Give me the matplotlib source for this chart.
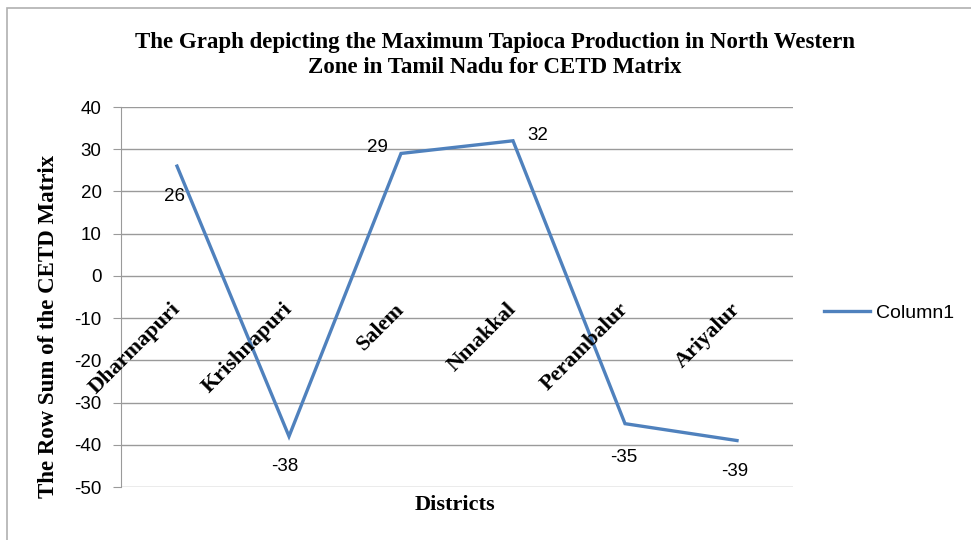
import matplotlib
matplotlib.use("Agg")
import matplotlib.pyplot as plt
from matplotlib.patches import Rectangle

districts = ["Dharmapuri", "Krishnapuri", "Salem", "Nmakkal", "Perambalur", "Ariyalur"]
values = [26, -38, 29, 32, -35, -39]
series_name = "Column1"
yticks = [40, 30, 20, 10, 0, -10, -20, -30, -40, -50]

# label offsets in points (style only)
label_offsets = [(-1.5, -22), (-3, -22), (-17, 4), (18, 4), (-1, -24), (-1.5, -22)]

serif = "Liberation Serif"
sans = "Liberation Sans"

fig = plt.figure(figsize=(9.71, 5.40), dpi=100)
fig.patch.set_facecolor("white")
# outer frame
fig.patches.append(Rectangle((7 / 971, -0.1), 1.2, 1 - 8 / 540 + 0.1, transform=fig.transFigure,
                             fill=False, edgecolor="#b0b0b0", linewidth=1.2))

ax = fig.add_axes([121 / 971, 1 - 487 / 540, 672 / 971, 380 / 540])
x = list(range(len(districts)))
line, = ax.plot(x, values, color="#4F81BD", linewidth=2.4, label=series_name, solid_joinstyle="miter")
ax.set_xlim(-0.5, len(districts) - 0.5)
ax.set_ylim(-50, 40)
ax.set_yticks(yticks)
ax.set_yticklabels([str(v) for v in yticks], fontsize=13.5, family=sans)
ax.yaxis.grid(True, color="#9a9a9a", linewidth=1)
ax.set_axisbelow(True)
ax.set_xticks([])
for s in ["top", "right", "bottom"]:
    ax.spines[s].set_visible(False)
ax.spines["left"].set_color("#9a9a9a")
ax.tick_params(axis="y", length=6, color="#9a9a9a", pad=8)

for i, (v, off) in enumerate(zip(values, label_offsets)):
    ax.annotate(str(v), (i, v), xytext=off, textcoords="offset points",
                ha="center", va="center", fontsize=13.5, family=sans)

for i, name in enumerate(districts):
    ax.annotate(name, (i, 0), xytext=(3, -24.5), textcoords="offset points",
                ha="right", va="baseline", rotation=45, rotation_mode="anchor",
                fontsize=16, fontweight="bold", family=serif)

fig.text(49 / 971, 1 - 326 / 540, "The Row Sum of the CETD Matrix", rotation=90,
         ha="center", va="center", fontsize=16.5, fontweight="bold", family=serif)
fig.text(455 / 971, 1 - 505 / 540, "Districts", ha="center", va="center", fontsize=16,
         fontweight="bold", family=serif)
fig.text(495 / 971, 1 - 55 / 540,
         "The Graph depicting the Maximum Tapioca Production in North Western\nZone in Tamil Nadu for CETD Matrix",
         ha="center", va="center", fontsize=16.5, fontweight="bold", family=serif, linespacing=1.2)

fig.legend(handles=[line], loc="center left", bbox_to_anchor=(806 / 971, 1 - 313 / 540),
           frameon=False, prop={"family": sans, "size": 14}, handlelength=2.4,
           handletextpad=0.3)

fig.savefig("out.png", dpi=100)
